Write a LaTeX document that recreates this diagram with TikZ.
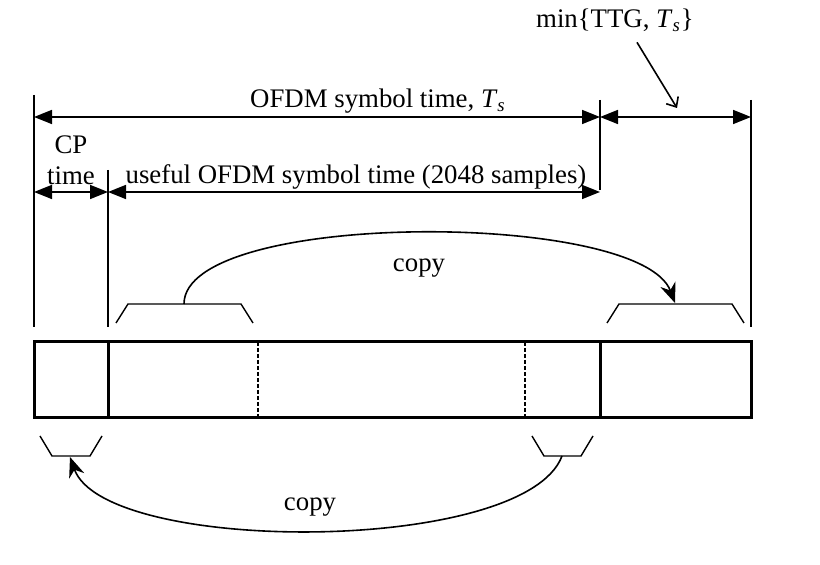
\documentclass[tikz,border=0pt]{standalone}
\usepackage{fontspec}
\setmainfont{Liberation Serif}
\usetikzlibrary{arrows.meta}
\newcommand{\symT}{\textit{T}\textsubscript{\textit{s}}}
\begin{document}
\begin{tikzpicture}[x=0.5pt,y=-0.5pt,line width=0.8pt,
    dim/.style={{Triangle[length=9pt,width=7pt]}-{Triangle[length=9pt,width=7pt]}},
    copyarrow/.style={-{Stealth[length=10pt,width=8pt]}},
    pointer/.style={-{Straight Barb[length=4pt,width=7pt]}},
    lbl/.style={font=\fontsize{13.4}{15.5}\selectfont,inner sep=1pt},
    brace/.style={line width=0.7pt}]
\useasboundingbox (0,0) rectangle (820,565);
% tick lines
\draw (34,95) -- (34,327);
\draw (108,170) -- (108,327);
\draw (600,100) -- (600,190);
\draw (751,100) -- (751,327);
% dimension ends
\coordinate (a1) at (34,117);
\coordinate (a2) at (600,117);
\coordinate (a3) at (751,117);
\coordinate (b1) at (34,192);
\coordinate (b2) at (108,192);
\coordinate (b3) at (600,192);
\draw [dim] (a1) -- (a2);
\draw [dim] (a2) -- (a3);
\draw [dim] (b1) -- (b2);
\draw [dim] (b2) -- (b3);
\node [lbl] (symtime) at (378,101) {OFDM symbol time, \symT};
\node [lbl,align=center] (cptime) at (71,160) {CP\\time};
\node [lbl] (useful) at (356,177) {useful OFDM symbol time (2048 samples)};
\node [lbl] (ttg) at (615,20) {min\{TTG, \symT\}};
\coordinate (ttgtip) at (677,108);
\draw [pointer] ([xshift=11pt,yshift=-4pt]ttg.south) -- (ttgtip);
% symbol
\draw [line width=1.5pt] (34,342) rectangle (751,418);
\draw [line width=1.5pt] (108,342) -- (108,418);
\draw [line width=1.5pt] (600,342) -- (600,418);
\draw [line width=1.2pt,dash pattern=on 2pt off 1pt] (258,342) -- (258,418);
\draw [line width=1.2pt,dash pattern=on 2pt off 1pt] (525,342) -- (525,418);
% upper copy
\draw [brace] (116,323) -- (128,304) -- (241,304) -- (253,323);
\draw [brace] (607,323) -- (619,304) -- (732,304) -- (744,323);
\coordinate (src1) at (184,304);
\coordinate (dst1) at (675,303);
\draw [copyarrow] (src1) .. controls (184,210) and (640,210) .. (dst1);
\node [lbl] (copy1) at (419,268) {copy};
% lower copy
\draw [brace] (40,436) -- (52,456) -- (90,456) -- (102,436);
\draw [brace] (532,436) -- (544,456) -- (581,456) -- (593,436);
\coordinate (src2) at (562,456);
\coordinate (dst2) at (70,457);
\draw [copyarrow] (src2) .. controls (525,555) and (105,555) .. (dst2);
\node [lbl] (copy2) at (310,507) {copy};
\end{tikzpicture}
\end{document}
